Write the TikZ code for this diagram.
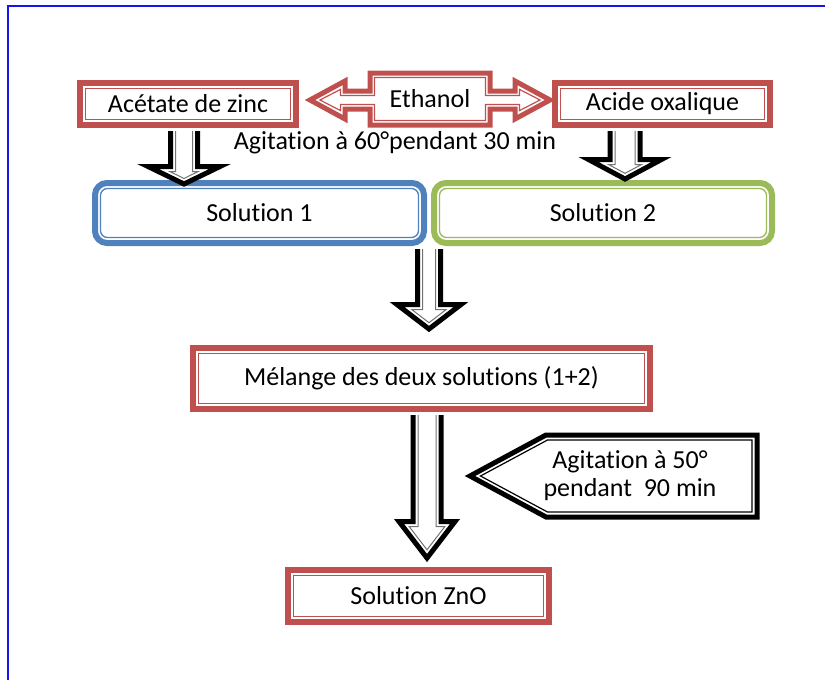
\documentclass[tikz,border=0pt]{standalone}
\usepackage{fontspec}
\setmainfont{Carlito}[Ligatures={NoCommon,NoContextual}]
\usepackage{tikz}
\usetikzlibrary{calc}

\definecolor{boxred}{RGB}{192,80,77}
\definecolor{boxblue}{RGB}{79,129,189}
\definecolor{boxgreen}{RGB}{155,187,89}
\definecolor{frameblue}{RGB}{20,20,240}

\tikzset{
	txt/.style={font=\fontsize{26}{28}\selectfont, text=black},
	redbox/.style={txt, draw=boxred, line width=6pt, fill=white, inner sep=0pt,
		path picture={\draw[boxred, line width=1.3pt]
			([shift={(5.5pt,-5.5pt)}]path picture bounding box.north west) rectangle
			([shift={(-5.5pt,5.5pt)}]path picture bounding box.south east);}},
	roundbox/.style={txt, draw=#1, line width=6pt, fill=white, rounded corners=12pt, inner sep=0pt,
		path picture={\draw[#1, line width=1.3pt, rounded corners=7pt]
			([shift={(5.5pt,-5.5pt)}]path picture bounding box.north west) rectangle
			([shift={(-5.5pt,5.5pt)}]path picture bounding box.south east);}},
	arrowout/.style={draw=black, line width=5pt, fill=white, line join=miter},
	arrowin/.style={draw=black!55, line width=1pt, line join=miter},
	calloutout/.style={draw=#1, line width=5pt, line join=miter},
	calloutin/.style={draw=#1, line width=1.2pt, line join=miter},
}

\newcommand{\blockdown}[5]{%
	\pgfmathsetmacro{\bdlen}{sqrt((#4)*(#4)+(#5)*(#5))}%
	\pgfmathsetlengthmacro{\bdhx}{((#4)*((#5)-5)-5*\bdlen)/(#5)}%
	\pgfmathsetlengthmacro{\bdty}{5*\bdlen/(#4)}%
	\draw[arrowout] let \p1=#1, \p2=#2 in
		(\x1-#3pt,\y1) -- (\x1-#3pt,\y2+#5pt) -- (\x1-#4pt,\y2+#5pt) -- (\x1,\y2)
		-- (\x1+#4pt,\y2+#5pt) -- (\x1+#3pt,\y2+#5pt) -- (\x1+#3pt,\y1);
	\draw[arrowin] let \p1=#1, \p2=#2 in
		(\x1-#3pt+5pt,\y1) -- (\x1-#3pt+5pt,\y2+#5pt-5pt) -- (\x1-\bdhx,\y2+#5pt-5pt)
		-- (\x1,\y2+\bdty) -- (\x1+\bdhx,\y2+#5pt-5pt) -- (\x1+#3pt-5pt,\y2+#5pt-5pt) -- (\x1+#3pt-5pt,\y1);
}

\begin{document}
\begin{tikzpicture}[x=1pt,y=-1pt]

	\useasboundingbox (0,0) rectangle (825,680);
	\draw[frameblue, line width=1.5pt] (8,680) -- (8,6) -- (825,6);

	\node[redbox, minimum width=216pt, minimum height=42pt] (acetate) at (188,104) {Acétate de zinc};
	\node[redbox, minimum width=215pt, minimum height=42pt] (acide) at (662.5,104) {Acide oxalique};
	\node[txt] (ethanol) at (430,99) {Ethanol};
	\node[txt] (agit60) at (395,143) {Agitation à 60°pendant 30 min};
	\node[roundbox=boxblue, minimum width=329pt, minimum height=60pt] (sol1) at (259.5,213) {Solution 1};
	\node[roundbox=boxgreen, minimum width=338pt, minimum height=60pt] (sol2) at (603,213) {Solution 2};
	\node[redbox, minimum width=457pt, minimum height=61pt] (melange) at (421.5,378.5) {Mélange des deux solutions (1+2)};
	\node[txt, align=center] (agit50) at (630,476) {Agitation à 50°\\pendant~~90 min};
	\node[redbox, minimum width=261pt, minimum height=52pt] (zno) at (418.5,596) {Solution ZnO};

	\draw[calloutout=boxred, shift={(ethanol.center)}] (-60,-26) -- (60,-26) -- (60,-8) -- (85,-8) -- (85,-18) -- (120,1)
		-- (85,20) -- (85,10) -- (60,10) -- (60,26) -- (-60,26) -- (-60,10) -- (-85,10) -- (-85,20) -- (-120,1)
		-- (-85,-18) -- (-85,-8) -- (-60,-8) -- cycle;
	\draw[calloutin=boxred, shift={(ethanol.center)}] (-55.5,-21.5) -- (55.5,-21.5) -- (55.5,-3.5) -- (89.5,-3.5) -- (89.5,-9.6)
		-- (110,1) -- (89.5,11.6) -- (89.5,5.5) -- (55.5,5.5) -- (55.5,21.5) -- (-55.5,21.5) -- (-55.5,5.5) -- (-89.5,5.5)
		-- (-89.5,11.6) -- (-110,1) -- (-89.5,-9.6) -- (-89.5,-3.5) -- (-55.5,-3.5) -- cycle;

	\draw[calloutout=black, shift={(agit50.center)}] (-84,-41) -- (127,-41) -- (127,41) -- (-84,41) -- (-160,0) -- cycle;
	\draw[calloutin=black, shift={(agit50.center)}] (-82.5,-36) -- (122,-36) -- (122,36) -- (-82.5,36) -- (-149.5,0) -- cycle;

	\blockdown{([xshift=-4pt,yshift=-3pt]acetate.south)}{([yshift=-4pt]sol1.north)}{13.5}{36}{17.5}
	\blockdown{([xshift=-37.5pt,yshift=-3pt]acide.south)}{([yshift=1pt]sol2.north)}{15}{36.5}{19.5}
	\blockdown{($(sol1.south east)!0.5!(sol2.south west)+(0,3)$)}{([yshift=16pt]melange.north)}{11.5}{32}{24.5}
	\blockdown{([xshift=5.5pt,yshift=-3pt]melange.south)}{([yshift=9pt]zno.north)}{14}{28}{36.5}

\end{tikzpicture}
\end{document}
